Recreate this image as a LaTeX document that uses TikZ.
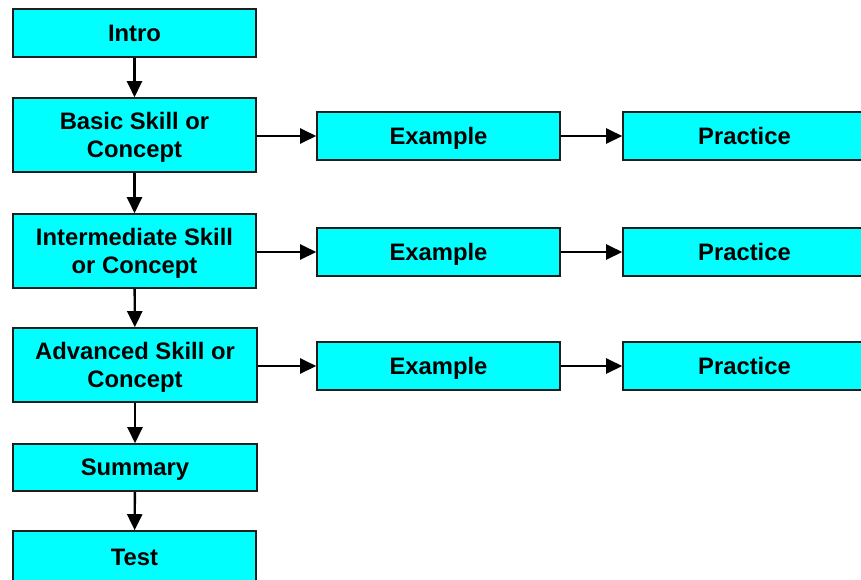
\documentclass[tikz,border=0pt]{standalone}
\usepackage{fontspec}
\setmainfont{Liberation Sans}
\usetikzlibrary{arrows.meta}
\definecolor{boxfill}{RGB}{0,255,255}
\definecolor{boxline}{RGB}{30,30,30}
\begin{document}
\begin{tikzpicture}[x=1pt,y=-1pt,
  box/.style={draw=boxline,line width=1.6pt,fill=boxfill,inner sep=0pt,
    text depth=0pt,font=\fontsize{23.8}{28}\selectfont\bfseries,align=center},
  link/.style={line width=2.4pt,-{Triangle[length=16pt,width=15pt]}}]
\useasboundingbox (0,0) rectangle (861,579);
% left column
\node[box,minimum width=243,minimum height=48] (intro) at (134.5,33) {Intro};
\node[box,minimum width=243,minimum height=74] (basic) at (134.5,135) {Basic Skill or\\Concept};
\node[box,minimum width=243,minimum height=74] (inter) at (134.5,251) {Intermediate Skill\\or Concept};
\node[box,minimum width=244,minimum height=74] (adv) at (135,365) {Advanced Skill or\\Concept};
\node[box,minimum width=244,minimum height=47] (summ) at (135,467.5) {Summary};
\node[box,minimum width=243,minimum height=52] (test) at (134.5,557) {Test};
% example column
\node[box,minimum width=243,minimum height=48] (ex1) at (438.5,136) {Example};
\node[box,minimum width=243,minimum height=48] (ex2) at (438.5,252) {Example};
\node[box,minimum width=243,minimum height=48] (ex3) at (438.5,366) {Example};
% practice column
\node[box,minimum width=243,minimum height=48] (pr1) at (744.5,136) {Practice};
\node[box,minimum width=243,minimum height=48] (pr2) at (744.5,252) {Practice};
\node[box,minimum width=243,minimum height=48] (pr3) at (744.5,366) {Practice};
% vertical flow
\draw[link] (intro) -- (basic);
\draw[link] (basic) -- (inter);
\draw[link] (inter) -- (adv);
\draw[link] (adv) -- (summ);
\draw[link] (summ) -- (test);
% horizontal flow
\draw[link] (basic.east |- ex1) -- (ex1);
\draw[link] (inter.east |- ex2) -- (ex2);
\draw[link] (adv.east |- ex3) -- (ex3);
\draw[link] (ex1) -- (pr1);
\draw[link] (ex2) -- (pr2);
\draw[link] (ex3) -- (pr3);
\end{tikzpicture}
\end{document}
